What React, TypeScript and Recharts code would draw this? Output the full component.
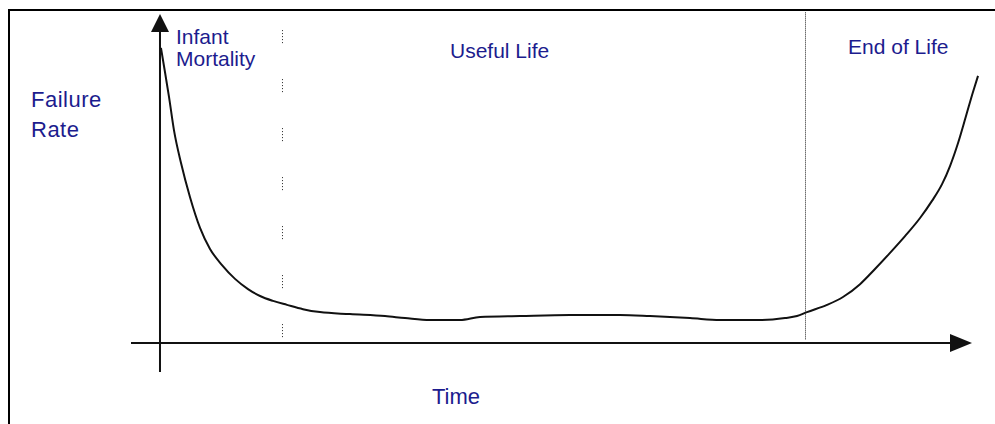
import React from 'react';
import { LineChart, Line, XAxis, YAxis, ReferenceLine, ReferenceDot } from 'recharts';

// bathtub curve, time on x (axis arrow at 100), failure rate on y (arrow at 100)
const time = [
  0.12, 0.49, 1.11, 1.72, 2.59, 3.69, 4.93, 6.16, 7.64, 9.24, 10.84, 12.32, 13.92, 15.64, 17.61,
  19.7, 23.4, 27.71, 30.17, 33.25, 36.95, 39.41, 44.33, 50.49, 56.65, 60.34, 65.27, 68.97, 73.89,
  76.97, 78.45, 79.68, 82.14, 84.11, 86.21, 88.05, 89.9, 91.75, 93.6, 95.07, 96.31, 97.29, 98.28,
  99.26, 100.12, 100.74
];
const failureRate = [
  89.7, 84.2, 74.8, 64.7, 54.7, 44.4, 35.0, 28.6, 23.7, 19.5, 16.4, 14.3, 12.8, 11.6, 10.3, 9.4,
  8.8, 8.2, 7.6, 7.0, 7.0, 7.9, 8.2, 8.5, 8.5, 8.2, 7.6, 7.0, 7.0, 7.6, 8.2, 9.4, 11.6, 14.0, 17.9,
  22.5, 27.4, 32.5, 38.0, 43.2, 48.3, 53.8, 60.8, 69.0, 76.3, 81.2
];
const phaseBoundaries = [15.086, 79.495];
const phaseLabels = ['Infant', 'Mortality', 'Useful Life', 'End of Life'];
const axisTitles = ['Failure', 'Rate', 'Time'];

const xDomain: [number, number] = [-3.57, 101.5];
const yDomain: [number, number] = [-8.8, 100];

const data = time.map((t, i) => ({ t, rate: failureRate[i] }));

const ink = '#111';
const labelColor = '#1c1c8e';
const font = '"Liberation Sans", Arial, sans-serif';

const upArrow = ({ cx, cy }: any) => (
  <polygon points={`${cx},${cy} ${cx - 9},${cy + 18} ${cx + 9},${cy + 18}`} fill={ink} />
);
const rightArrow = ({ cx, cy }: any) => (
  <polygon points={`${cx},${cy} ${cx - 22},${cy - 9} ${cx - 22},${cy + 9}`} fill={ink} />
);

export default function App() {
  const textStyle = { fontFamily: font, fontSize: 21, fill: labelColor };
  return (
    <div style={{ position: 'absolute', left: 0, top: 0, width: 995, height: 424, background: '#fff' }}>
      <LineChart
        width={995}
        height={424}
        data={data}
        margin={{ top: 14, right: 10.8, bottom: 52, left: 131 }}
      >
        <XAxis type="number" dataKey="t" domain={xDomain} allowDataOverflow hide />
        <YAxis type="number" domain={yDomain} allowDataOverflow hide />
        {/* axes */}
        <ReferenceLine
          segment={[{ x: xDomain[0], y: 0 }, { x: 97.3, y: 0 }]}
          stroke={ink}
          strokeWidth={2}
        />
        <ReferenceLine
          segment={[{ x: 0, y: yDomain[0] }, { x: 0, y: 94.5 }]}
          stroke={ink}
          strokeWidth={2}
        />
        <ReferenceDot x={0} y={100} shape={upArrow} ifOverflow="visible" />
        <ReferenceDot x={100} y={0} shape={rightArrow} ifOverflow="visible" />
        {/* phase boundaries */}
        <ReferenceLine
          segment={[{ x: phaseBoundaries[0], y: 95.1 }, { x: phaseBoundaries[0], y: -2.1 }]}
          stroke="#222"
          strokeWidth={1}
          strokeDasharray="1 2 1 2 1 2 1 2 1 36"
          ifOverflow="visible"
        />
        <ReferenceLine
          segment={[{ x: phaseBoundaries[1], y: 100.5 }, { x: phaseBoundaries[1], y: 0.9 }]}
          stroke="#222"
          strokeWidth={1}
          strokeDasharray="1 1"
          ifOverflow="visible"
        />
        <Line
          type="monotone"
          dataKey="rate"
          stroke={ink}
          strokeWidth={2}
          dot={false}
          isAnimationActive={false}
        />
      </LineChart>
      <svg
        width={995}
        height={424}
        style={{ position: 'absolute', left: 0, top: 0, pointerEvents: 'none' }}
      >
        <line x1={8} y1={10} x2={995} y2={10} stroke="#000" strokeWidth={2} />
        <line x1={9} y1={9} x2={9} y2={424} stroke="#000" strokeWidth={2} />
        <text x={176} y={44} style={textStyle}>{phaseLabels[0]}</text>
        <text x={176} y={66} style={textStyle}>{phaseLabels[1]}</text>
        <text x={450} y={58} style={textStyle}>{phaseLabels[2]}</text>
        <text x={848} y={54} style={textStyle}>{phaseLabels[3]}</text>
        <text x={31} y={107} style={{ ...textStyle, fontSize: 22, letterSpacing: 0.5 }}>{axisTitles[0]}</text>
        <text x={31} y={137} style={{ ...textStyle, fontSize: 22, letterSpacing: 0.5 }}>{axisTitles[1]}</text>
        <text x={432} y={404} style={{ ...textStyle, fontSize: 22 }}>{axisTitles[2]}</text>
      </svg>
    </div>
  );
}
